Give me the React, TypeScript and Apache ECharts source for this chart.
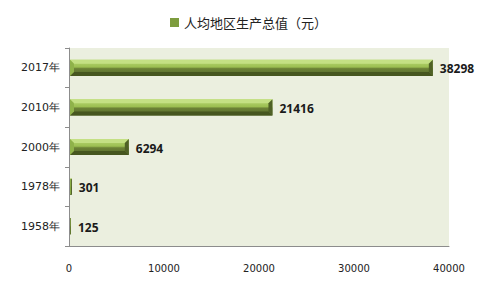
import React, { useEffect, useRef } from "react";
import * as echarts from "echarts";

const categories = ["1958年", "1978年", "2000年", "2010年", "2017年"];
const values = [125, 301, 6294, 21416, 38298];
const xTicks = [0, 10000, 20000, 30000, 40000];
const seriesName = "人均地区生产总值（元）";

export default function App() {
  const ref = useRef<HTMLDivElement>(null);
  useEffect(() => {
    const chart = echarts.init(ref.current!, undefined, { renderer: "svg" });
    const renderItem = (params: any, api: any) => {
      const cat = api.value(0);
      const val = api.value(1);
      const p0 = api.coord([0, cat]);
      const p1 = api.coord([val, cat]);
      const h = api.size([0, 1])[1] * 0.41;
      const x0 = p0[0] + 1;
      const x1 = p1[0];
      const y0 = p0[1] - h / 2;
      const y1 = p0[1] + h / 2;
      const w = Math.max(x1 - x0, 1);
      const b = Math.min(4, w / 2);
      const xe = x0 + w;
      const children: any[] = [
        {
          type: "rect",
          shape: { x: x0, y: y0, width: w, height: h },
          style: {
            fill: new echarts.graphic.LinearGradient(0, 0, 0, 1, [
              { offset: 0, color: "#b9d975" },
              { offset: 0.45, color: "#9cbf52" },
              { offset: 0.55, color: "#6c8236" },
              { offset: 1, color: "#56692b" },
            ]),
          },
        },
        {
          type: "polygon",
          shape: { points: [[x0, y0], [xe, y0], [xe - b, y0 + b], [x0 + b, y0 + b]] },
          style: { fill: "#c4e084" },
        },
        {
          type: "polygon",
          shape: { points: [[x0, y1], [xe, y1], [xe - b, y1 - b], [x0 + b, y1 - b]] },
          style: { fill: "#46561f" },
        },
        {
          type: "polygon",
          shape: { points: [[x0, y0], [x0 + b, y0 + b], [x0 + b, y1 - b], [x0, y1]] },
          style: { fill: "#8fb24a" },
        },
        {
          type: "polygon",
          shape: { points: [[xe, y0], [xe - b, y0 + b], [xe - b, y1 - b], [xe, y1]] },
          style: { fill: "#4f6126" },
        },
        {
          type: "text",
          style: {
            text: String(val),
            x: xe + 7,
            y: p0[1] + 1,
            textVerticalAlign: "middle",
            verticalAlign: "middle",
            fill: "#1a1a1a",
            font: "bold 12px 'Open Sans', sans-serif",
          },
        },
      ];
      return { type: "group", children };
    };
    chart.setOption({
      animation: false,
      legend: {
        top: 11,
        left: 165,
        icon: "rect",
        itemWidth: 9,
        itemHeight: 9,
        itemGap: 4,
        textStyle: { fontSize: 13, color: "#222", fontFamily: "'Noto Sans CJK SC', sans-serif" },
        data: [{ name: seriesName, itemStyle: { color: "#7d9c3e" } }],
      },
      grid: {
        left: 69,
        right: 35,
        top: 48,
        bottom: 46,
        show: true,
        backgroundColor: "#ebefdf",
        borderWidth: 0,
      },
      xAxis: {
        type: "value",
        min: xTicks[0],
        max: xTicks[xTicks.length - 1],
        interval: 10000,
        axisLine: { show: true, onZero: false, lineStyle: { color: "#8c8c8c" } },
        axisTick: { show: false },
        splitLine: { show: false },
        axisLabel: {
          margin: 17,
          fontSize: 10,
          color: "#222",
          fontFamily: "'DejaVu Sans', sans-serif",
          formatter: (v: number) => String(v),
        },
      },
      yAxis: {
        type: "category",
        data: categories,
        axisLine: { show: true, onZero: false, lineStyle: { color: "#8c8c8c", width: 1 } },
        axisTick: { show: true, length: 4, lineStyle: { color: "#8c8c8c" } },
        axisLabel: {
          margin: 9,
          fontSize: 11,
          color: "#222",
          fontFamily: "'DejaVu Sans', sans-serif",
        },
      },
      series: [
        {
          name: seriesName,
          type: "custom",
          renderItem,
          itemStyle: { color: "#7d9c3e" },
          encode: { x: 1, y: 0 },
          data: values.map((v, i) => [i, v]),
        },
      ],
    });
    return () => chart.dispose();
  }, []);
  return <div ref={ref} style={{ width: 484, height: 292, position: "absolute", left: 0, top: 0 }} />;
}
